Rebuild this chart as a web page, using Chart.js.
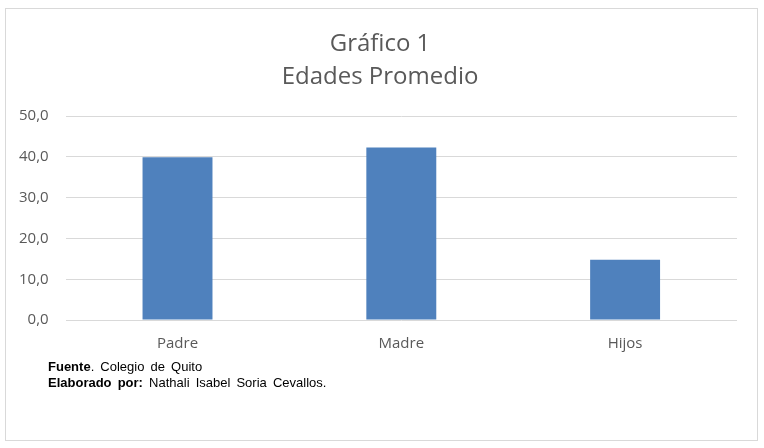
<!DOCTYPE html>
<html>
<head>
<meta charset="utf-8">
<script src="https://cdn.jsdelivr.net/npm/chart.js@4.4.1/dist/chart.umd.min.js"></script>
<style>
  body { margin: 0; background: #fff; }
  .wrap { position: relative; width: 764px; height: 448px; }
  .frame { position: absolute; left: 5px; top: 8px; width: 751px; height: 431px; border: 1px solid #d9d9d9; }
  canvas { position: absolute; left: 0; top: 0; }
  .nota { position: absolute; left: 48px; top: 359px; font-family: "Liberation Sans", Arial, sans-serif; font-size: 13px; line-height: 16px; word-spacing: 2.5px; color: #000; }
</style>
</head>
<body>
<div class="wrap">
  <div class="frame"></div>
  <canvas class="chart" width="764" height="448"></canvas>
  <div class="nota"><b>Fuente</b>. Colegio de Quito<br><b>Elaborado por:</b> Nathali Isabel Soria Cevallos.</div>
</div>
<script>
const categorias = ["Padre", "Madre", "Hijos"];
const edades = [39.9, 42.3, 14.8];
const tituloLineas = ["Gráfico 1", "Edades Promedio"];

const ctx = document.querySelector(".chart");

const data = {
  labels: categorias,
  datasets: [
    {
      data: edades,
      backgroundColor: "#4f81bd",
      barPercentage: 1,
      categoryPercentage: 0.3125
    }
  ]
};

const options = {
  responsive: false,
  animation: false,
  layout: {
    padding: { left: 2, right: 6, top: 27, bottom: 88 }
  },
  scales: {
    y: {
      min: 0,
      max: 50,
      border: { display: false },
      grid: { color: "#d9d9d9", drawTicks: false },
      ticks: {
        stepSize: 10,
        padding: 17,
        color: "#595959",
        font: { family: "Open Sans", size: 15 },
        callback: (v) => v.toFixed(1).replace(".", ",")
      }
    },
    // eje vacio a la derecha: deja margen sin descentrar el titulo
    margen: {
      position: "right",
      border: { display: false },
      grid: { display: false },
      ticks: { display: false },
      afterFit: (scale) => { scale.width = 21; }
    },
    x: {
      border: { display: false },
      grid: { display: false },
      ticks: {
        padding: 7,
        color: "#595959",
        font: { family: "Open Sans", size: 15 }
      }
    }
  },
  plugins: {
    legend: { display: false },
    tooltip: { enabled: false },
    title: {
      display: true,
      text: tituloLineas,
      color: "#595959",
      font: { family: "Open Sans", size: 24, weight: "normal", lineHeight: 1.4 },
      padding: { top: 0, bottom: 22 }
    }
  }
};

new Chart(ctx, { type: "bar", data: data, options: options });
</script>
</body>
</html>
